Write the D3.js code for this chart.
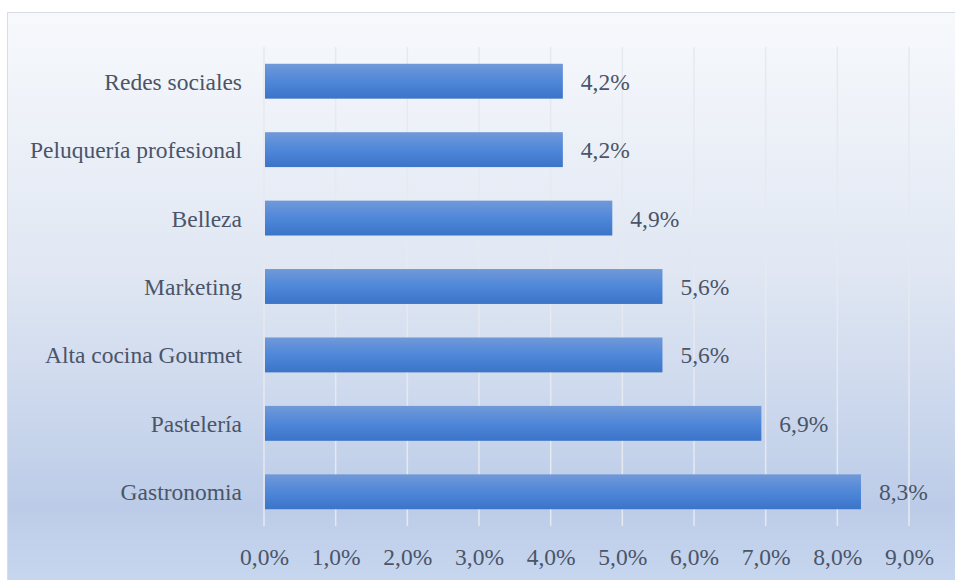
<!DOCTYPE html>
<html>
<head>
<meta charset="utf-8">
<script src="https://cdn.jsdelivr.net/npm/d3@7"></script>
<style>
  html, body { margin: 0; padding: 0; background: #ffffff; }
  svg { display: block; }
</style>
</head>
<body>
<svg id="chart" width="955" height="580"></svg>
<script>
const categories = ["Redes sociales", "Peluquería profesional", "Belleza", "Marketing", "Alta cocina Gourmet", "Pastelería", "Gastronomia"];
const values = [4.17, 4.17, 4.86, 5.56, 5.56, 6.94, 8.33];
const tickValues = [0, 1, 2, 3, 4, 5, 6, 7, 8, 9];

const svg = d3.select("#chart");
const W = 955, H = 580;
const margin = { left: 264, right: 46, top: 47, bottom: 54 };
const fmt = v => d3.format(".1f")(v).replace(".", ",") + "%";
const textColor = "#4a5569";
const fontFamily = "'Liberation Serif', 'Times New Roman', serif";

const defs = svg.append("defs");
const bg = defs.append("linearGradient").attr("id", "bgGrad").attr("x1", 0).attr("y1", 0).attr("x2", 0).attr("y2", 1);
bg.append("stop").attr("offset", "0").attr("stop-color", "#f7f9fc");
bg.append("stop").attr("offset", "0.45").attr("stop-color", "#e0e7f3");
bg.append("stop").attr("offset", "0.85").attr("stop-color", "#bccce8");
bg.append("stop").attr("offset", "1").attr("stop-color", "#c9d8f0");

const bar = defs.append("linearGradient").attr("id", "barGrad").attr("x1", 0).attr("y1", 0).attr("x2", 0).attr("y2", 1);
bar.append("stop").attr("offset", "0").attr("stop-color", "#7199d8");
bar.append("stop").attr("offset", "0.5").attr("stop-color", "#4f87d9");
bar.append("stop").attr("offset", "1").attr("stop-color", "#3b74c8");

// chart background
svg.append("rect")
  .attr("x", 7.5).attr("y", 12.5)
  .attr("width", W).attr("height", H)
  .attr("fill", "url(#bgGrad)")
  .attr("stroke", "#d9dce1").attr("stroke-width", 1);

const x = d3.scaleLinear().domain([0, 9]).range([margin.left, W - margin.right]);
const y = d3.scaleBand().domain(categories).range([margin.top, H - margin.bottom]).paddingInner(0.49).paddingOuter(0.245);

// gridlines
svg.append("g").selectAll("line").data(tickValues).join("line")
  .attr("x1", d => x(d)).attr("x2", d => x(d))
  .attr("y1", margin.top).attr("y2", H - margin.bottom)
  .attr("stroke", "#e6e9ef").attr("stroke-width", 1.5);

// bars
svg.append("g").selectAll("rect").data(categories).join("rect")
  .attr("x", x(0) + 1)
  .attr("y", d => y(d))
  .attr("width", (d, i) => x(values[i]) - x(0) - 1)
  .attr("height", y.bandwidth())
  .attr("fill", "url(#barGrad)");

// value labels
svg.append("g").selectAll("text").data(categories).join("text")
  .attr("x", (d, i) => x(values[i]) + 18)
  .attr("y", d => y(d) + y.bandwidth() / 2 + 8.5)
  .attr("font-family", fontFamily).attr("font-size", 23.5)
  .attr("fill", textColor)
  .text((d, i) => fmt(values[i]));

// category labels (y axis)
const yAxis = d3.axisLeft(y).tickSize(0).tickPadding(22);
const gy = svg.append("g").attr("transform", `translate(${margin.left},0)`).call(yAxis);
gy.select(".domain").remove();
gy.selectAll("text")
  .attr("font-family", fontFamily).attr("font-size", 23.5)
  .attr("fill", textColor).attr("dy", "0.36em");

// x axis tick labels
const xAxis = d3.axisBottom(x).tickValues(tickValues).tickSize(0).tickPadding(0).tickFormat(d => fmt(d));
const gx = svg.append("g").attr("transform", `translate(0,${H - margin.bottom})`).call(xAxis);
gx.select(".domain").remove();
gx.selectAll("text")
  .attr("font-family", fontFamily).attr("font-size", 23.5)
  .attr("fill", textColor).attr("dy", null).attr("y", 39);
</script>
</body>
</html>
